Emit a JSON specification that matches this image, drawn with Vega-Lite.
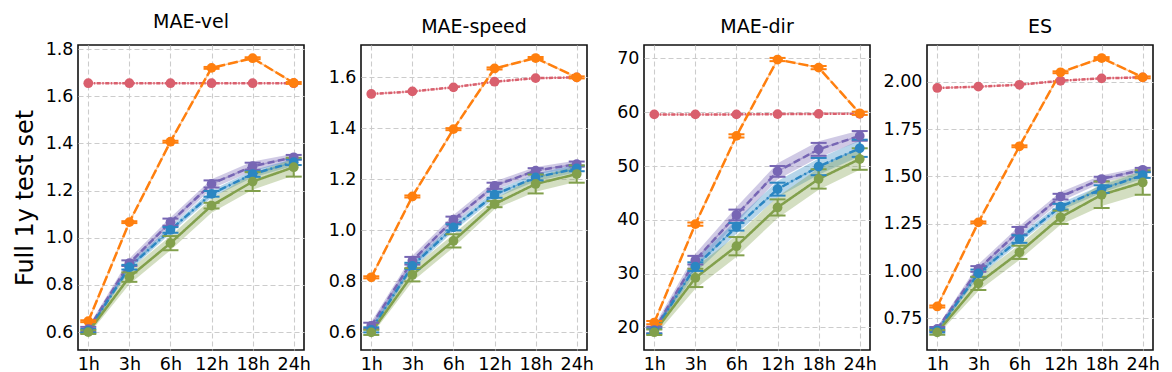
{
"$schema":"https://vega.github.io/schema/vega-lite/v6.json",
"padding":{"left":12,"top":12,"right":5,"bottom":4},
"bounds":"flush",
"spacing":57,
"config":{
 "font":"DejaVu Sans",
 "view":{"stroke":"#111","strokeWidth":1.6},
 "axis":{"labelFont":"DejaVu Sans","labelFontSize":17.5,"labelColor":"#000","grid":true,"gridColor":"#cccccc","gridDash":[5,3],"gridWidth":1.1,"domain":false,"ticks":false,"tickSize":0,"labelPadding":5,"titleFont":"DejaVu Sans","titleFontWeight":"normal","titleColor":"#000"},
 "title":{"font":"DejaVu Sans","fontSize":19,"fontWeight":"normal","color":"#000","offset":8}
},
"data":{"values":[
{"m":"MAE-vel","h":"1h","s":"P","v":1.655},{"m":"MAE-vel","h":"3h","s":"P","v":1.655},{"m":"MAE-vel","h":"6h","s":"P","v":1.655},{"m":"MAE-vel","h":"12h","s":"P","v":1.655},{"m":"MAE-vel","h":"18h","s":"P","v":1.655},{"m":"MAE-vel","h":"24h","s":"P","v":1.655},
{"m":"MAE-vel","h":"1h","s":"B","v":0.646,"elo":0.642,"ehi":0.650},{"m":"MAE-vel","h":"3h","s":"B","v":1.066,"elo":1.062,"ehi":1.070},{"m":"MAE-vel","h":"6h","s":"B","v":1.407,"elo":1.403,"ehi":1.411},{"m":"MAE-vel","h":"12h","s":"B","v":1.72,"elo":1.716,"ehi":1.724},{"m":"MAE-vel","h":"18h","s":"B","v":1.761,"elo":1.757,"ehi":1.765},{"m":"MAE-vel","h":"24h","s":"B","v":1.656,"elo":1.652,"ehi":1.660},
{"m":"MAE-vel","h":"1h","s":"M1","v":0.612,"elo":0.602,"ehi":0.622,"blo":0.600,"bhi":0.624},{"m":"MAE-vel","h":"3h","s":"M1","v":0.892,"elo":0.880,"ehi":0.904,"blo":0.872,"bhi":0.912},{"m":"MAE-vel","h":"6h","s":"M1","v":1.066,"elo":1.051,"ehi":1.081,"blo":1.046,"bhi":1.086},{"m":"MAE-vel","h":"12h","s":"M1","v":1.228,"elo":1.213,"ehi":1.243,"blo":1.208,"bhi":1.248},{"m":"MAE-vel","h":"18h","s":"M1","v":1.303,"elo":1.288,"ehi":1.318,"blo":1.283,"bhi":1.323},{"m":"MAE-vel","h":"24h","s":"M1","v":1.341,"elo":1.331,"ehi":1.351,"blo":1.326,"bhi":1.356},
{"m":"MAE-vel","h":"1h","s":"M2","v":0.605,"elo":0.597,"ehi":0.613,"blo":0.595,"bhi":0.615},{"m":"MAE-vel","h":"3h","s":"M2","v":0.875,"elo":0.865,"ehi":0.885,"blo":0.860,"bhi":0.890},{"m":"MAE-vel","h":"6h","s":"M2","v":1.033,"elo":1.021,"ehi":1.045,"blo":1.018,"bhi":1.048},{"m":"MAE-vel","h":"12h","s":"M2","v":1.186,"elo":1.174,"ehi":1.198,"blo":1.171,"bhi":1.201},{"m":"MAE-vel","h":"18h","s":"M2","v":1.270,"elo":1.258,"ehi":1.282,"blo":1.255,"bhi":1.285},{"m":"MAE-vel","h":"24h","s":"M2","v":1.320,"elo":1.308,"ehi":1.332,"blo":1.305,"bhi":1.335},
{"m":"MAE-vel","h":"1h","s":"M3","v":0.600,"elo":0.592,"ehi":0.608,"blo":0.588,"bhi":0.612},{"m":"MAE-vel","h":"3h","s":"M3","v":0.833,"elo":0.813,"ehi":0.853,"blo":0.803,"bhi":0.863},{"m":"MAE-vel","h":"6h","s":"M3","v":0.977,"elo":0.947,"ehi":1.007,"blo":0.947,"bhi":1.007},{"m":"MAE-vel","h":"12h","s":"M3","v":1.136,"elo":1.124,"ehi":1.148,"blo":1.106,"bhi":1.166},{"m":"MAE-vel","h":"18h","s":"M3","v":1.238,"elo":1.198,"ehi":1.278,"blo":1.203,"bhi":1.273},{"m":"MAE-vel","h":"24h","s":"M3","v":1.299,"elo":1.259,"ehi":1.339,"blo":1.264,"bhi":1.334},

{"m":"MAE-speed","h":"1h","s":"P","v":1.535},{"m":"MAE-speed","h":"3h","s":"P","v":1.545},{"m":"MAE-speed","h":"6h","s":"P","v":1.561},{"m":"MAE-speed","h":"12h","s":"P","v":1.583},{"m":"MAE-speed","h":"18h","s":"P","v":1.597},{"m":"MAE-speed","h":"24h","s":"P","v":1.600},
{"m":"MAE-speed","h":"1h","s":"B","v":0.816,"elo":0.812,"ehi":0.820},{"m":"MAE-speed","h":"3h","s":"B","v":1.133,"elo":1.129,"ehi":1.137},{"m":"MAE-speed","h":"6h","s":"B","v":1.397,"elo":1.393,"ehi":1.401},{"m":"MAE-speed","h":"12h","s":"B","v":1.635,"elo":1.631,"ehi":1.639},{"m":"MAE-speed","h":"18h","s":"B","v":1.676,"elo":1.672,"ehi":1.680},{"m":"MAE-speed","h":"24h","s":"B","v":1.600,"elo":1.596,"ehi":1.604},
{"m":"MAE-speed","h":"1h","s":"M1","v":0.626,"elo":0.614,"ehi":0.638,"blo":0.610,"bhi":0.642},{"m":"MAE-speed","h":"3h","s":"M1","v":0.881,"elo":0.866,"ehi":0.896,"blo":0.861,"bhi":0.901},{"m":"MAE-speed","h":"6h","s":"M1","v":1.042,"elo":1.030,"ehi":1.054,"blo":1.024,"bhi":1.060},{"m":"MAE-speed","h":"12h","s":"M1","v":1.175,"elo":1.163,"ehi":1.187,"blo":1.158,"bhi":1.192},{"m":"MAE-speed","h":"18h","s":"M1","v":1.234,"elo":1.224,"ehi":1.244,"blo":1.219,"bhi":1.249},{"m":"MAE-speed","h":"24h","s":"M1","v":1.260,"elo":1.250,"ehi":1.270,"blo":1.246,"bhi":1.274},
{"m":"MAE-speed","h":"1h","s":"M2","v":0.610,"elo":0.600,"ehi":0.620,"blo":0.598,"bhi":0.622},{"m":"MAE-speed","h":"3h","s":"M2","v":0.861,"elo":0.849,"ehi":0.873,"blo":0.846,"bhi":0.876},{"m":"MAE-speed","h":"6h","s":"M2","v":1.012,"elo":1.000,"ehi":1.024,"blo":0.997,"bhi":1.027},{"m":"MAE-speed","h":"12h","s":"M2","v":1.140,"elo":1.128,"ehi":1.152,"blo":1.125,"bhi":1.155},{"m":"MAE-speed","h":"18h","s":"M2","v":1.208,"elo":1.196,"ehi":1.220,"blo":1.193,"bhi":1.223},{"m":"MAE-speed","h":"24h","s":"M2","v":1.243,"elo":1.232,"ehi":1.254,"blo":1.228,"bhi":1.258},
{"m":"MAE-speed","h":"1h","s":"M3","v":0.600,"elo":0.590,"ehi":0.610,"blo":0.588,"bhi":0.612},{"m":"MAE-speed","h":"3h","s":"M3","v":0.826,"elo":0.800,"ehi":0.852,"blo":0.800,"bhi":0.852},{"m":"MAE-speed","h":"6h","s":"M3","v":0.959,"elo":0.933,"ehi":0.985,"blo":0.933,"bhi":0.985},{"m":"MAE-speed","h":"12h","s":"M3","v":1.103,"elo":1.091,"ehi":1.115,"blo":1.083,"bhi":1.123},{"m":"MAE-speed","h":"18h","s":"M3","v":1.182,"elo":1.145,"ehi":1.219,"blo":1.152,"bhi":1.212},{"m":"MAE-speed","h":"24h","s":"M3","v":1.221,"elo":1.187,"ehi":1.255,"blo":1.191,"bhi":1.251},

{"m":"MAE-dir","h":"1h","s":"P","v":59.6},{"m":"MAE-dir","h":"3h","s":"P","v":59.6},{"m":"MAE-dir","h":"6h","s":"P","v":59.6},{"m":"MAE-dir","h":"12h","s":"P","v":59.65},{"m":"MAE-dir","h":"18h","s":"P","v":59.7},{"m":"MAE-dir","h":"24h","s":"P","v":59.7},
{"m":"MAE-dir","h":"1h","s":"B","v":20.9,"elo":20.6,"ehi":21.2},{"m":"MAE-dir","h":"3h","s":"B","v":39.2,"elo":38.9,"ehi":39.5},{"m":"MAE-dir","h":"6h","s":"B","v":55.6,"elo":55.3,"ehi":55.9},{"m":"MAE-dir","h":"12h","s":"B","v":69.8,"elo":69.5,"ehi":70.1},{"m":"MAE-dir","h":"18h","s":"B","v":68.3,"elo":68.0,"ehi":68.6},{"m":"MAE-dir","h":"24h","s":"B","v":59.8,"elo":59.5,"ehi":60.1},
{"m":"MAE-dir","h":"1h","s":"M1","v":19.5,"elo":18.9,"ehi":20.1,"blo":18.7,"bhi":20.3},{"m":"MAE-dir","h":"3h","s":"M1","v":32.5,"elo":31.7,"ehi":33.3,"blo":31.3,"bhi":33.7},{"m":"MAE-dir","h":"6h","s":"M1","v":40.9,"elo":39.9,"ehi":41.9,"blo":39.4,"bhi":42.4},{"m":"MAE-dir","h":"12h","s":"M1","v":49.0,"elo":48.0,"ehi":50.0,"blo":47.5,"bhi":50.5},{"m":"MAE-dir","h":"18h","s":"M1","v":53.1,"elo":51.9,"ehi":54.3,"blo":51.6,"bhi":54.6},{"m":"MAE-dir","h":"24h","s":"M1","v":55.6,"elo":54.7,"ehi":56.5,"blo":54.6,"bhi":56.6},
{"m":"MAE-dir","h":"1h","s":"M2","v":19.3,"elo":18.8,"ehi":19.8,"blo":18.6,"bhi":20.0},{"m":"MAE-dir","h":"3h","s":"M2","v":31.3,"elo":30.5,"ehi":32.1,"blo":30.1,"bhi":32.5},{"m":"MAE-dir","h":"6h","s":"M2","v":38.7,"elo":38.0,"ehi":39.4,"blo":37.4,"bhi":40.0},{"m":"MAE-dir","h":"12h","s":"M2","v":45.7,"elo":44.5,"ehi":46.9,"blo":44.2,"bhi":47.2},{"m":"MAE-dir","h":"18h","s":"M2","v":49.9,"elo":48.3,"ehi":51.5,"blo":48.4,"bhi":51.4},{"m":"MAE-dir","h":"24h","s":"M2","v":53.3,"elo":51.7,"ehi":54.9,"blo":51.8,"bhi":54.8},
{"m":"MAE-dir","h":"1h","s":"M3","v":19.1,"elo":18.6,"ehi":19.6,"blo":18.3,"bhi":19.9},{"m":"MAE-dir","h":"3h","s":"M3","v":29.2,"elo":27.5,"ehi":30.9,"blo":27.2,"bhi":31.2},{"m":"MAE-dir","h":"6h","s":"M3","v":35.1,"elo":33.4,"ehi":36.8,"blo":33.1,"bhi":37.1},{"m":"MAE-dir","h":"12h","s":"M3","v":42.3,"elo":40.8,"ehi":43.8,"blo":40.3,"bhi":44.3},{"m":"MAE-dir","h":"18h","s":"M3","v":47.6,"elo":45.8,"ehi":49.4,"blo":45.6,"bhi":49.6},{"m":"MAE-dir","h":"24h","s":"M3","v":51.3,"elo":49.3,"ehi":53.3,"blo":49.3,"bhi":53.3},

{"m":"ES","h":"1h","s":"P","v":1.967},{"m":"ES","h":"3h","s":"P","v":1.974},{"m":"ES","h":"6h","s":"P","v":1.984},{"m":"ES","h":"12h","s":"P","v":2.005},{"m":"ES","h":"18h","s":"P","v":2.018},{"m":"ES","h":"24h","s":"P","v":2.023},
{"m":"ES","h":"1h","s":"B","v":0.813,"elo":0.808,"ehi":0.818},{"m":"ES","h":"3h","s":"B","v":1.257,"elo":1.252,"ehi":1.262},{"m":"ES","h":"6h","s":"B","v":1.659,"elo":1.654,"ehi":1.664},{"m":"ES","h":"12h","s":"B","v":2.05,"elo":2.045,"ehi":2.055},{"m":"ES","h":"18h","s":"B","v":2.125,"elo":2.120,"ehi":2.130},{"m":"ES","h":"24h","s":"B","v":2.023,"elo":2.018,"ehi":2.028},
{"m":"ES","h":"1h","s":"M1","v":0.694,"elo":0.684,"ehi":0.704,"blo":0.682,"bhi":0.706},{"m":"ES","h":"3h","s":"M1","v":1.011,"elo":0.996,"ehi":1.026,"blo":0.986,"bhi":1.036},{"m":"ES","h":"6h","s":"M1","v":1.213,"elo":1.193,"ehi":1.233,"blo":1.188,"bhi":1.238},{"m":"ES","h":"12h","s":"M1","v":1.393,"elo":1.378,"ehi":1.408,"blo":1.368,"bhi":1.418},{"m":"ES","h":"18h","s":"M1","v":1.486,"elo":1.474,"ehi":1.498,"blo":1.466,"bhi":1.506},{"m":"ES","h":"24h","s":"M1","v":1.535,"elo":1.525,"ehi":1.545,"blo":1.520,"bhi":1.550},
{"m":"ES","h":"1h","s":"M2","v":0.685,"elo":0.675,"ehi":0.695,"blo":0.673,"bhi":0.697},{"m":"ES","h":"3h","s":"M2","v":0.988,"elo":0.968,"ehi":1.008,"blo":0.968,"bhi":1.008},{"m":"ES","h":"6h","s":"M2","v":1.169,"elo":1.149,"ehi":1.189,"blo":1.149,"bhi":1.189},{"m":"ES","h":"12h","s":"M2","v":1.340,"elo":1.325,"ehi":1.355,"blo":1.320,"bhi":1.360},{"m":"ES","h":"18h","s":"M2","v":1.433,"elo":1.413,"ehi":1.453,"blo":1.413,"bhi":1.453},{"m":"ES","h":"24h","s":"M2","v":1.507,"elo":1.492,"ehi":1.522,"blo":1.487,"bhi":1.527},
{"m":"ES","h":"1h","s":"M3","v":0.676,"elo":0.664,"ehi":0.688,"blo":0.661,"bhi":0.691},{"m":"ES","h":"3h","s":"M3","v":0.935,"elo":0.900,"ehi":0.970,"blo":0.895,"bhi":0.975},{"m":"ES","h":"6h","s":"M3","v":1.099,"elo":1.064,"ehi":1.134,"blo":1.059,"bhi":1.139},{"m":"ES","h":"12h","s":"M3","v":1.284,"elo":1.249,"ehi":1.319,"blo":1.244,"bhi":1.324},{"m":"ES","h":"18h","s":"M3","v":1.403,"elo":1.333,"ehi":1.473,"blo":1.343,"bhi":1.463},{"m":"ES","h":"24h","s":"M3","v":1.468,"elo":1.403,"ehi":1.533,"blo":1.408,"bhi":1.528}
]},
"hconcat":[
{"width":226,"height":305,"title":"MAE-vel","transform":[{"filter":"datum.m==='MAE-vel'"}],
 "encoding":{"x":{"field":"h","type":"ordinal","sort":["1h","3h","6h","12h","18h","24h"],"scale":{"type":"point","padding":0.25},"axis":{"title":null,"labelAngle":0,"grid":true}},
  "color":{"field":"s","type":"nominal","scale":{"domain":["P","B","M1","M2","M3"],"range":["#d95f6d","#ff7f0e","#7766b4","#2b86c2","#82a04c"]},"legend":null}},
 "layer":[
  {"transform":[{"filter":"isValid(datum.blo)"}],"mark":{"type":"area","opacity":0.35},"encoding":{"y":{"field":"blo","type":"quantitative","scale":{"domain":[0.524,1.817],"zero":false,"nice":false},"axis":{"values":[0.6,0.8,1.0,1.2,1.4,1.6,1.8],"format":".1f","title":"Full 1y test set","titleFontSize":24,"titlePadding":8,"minExtent":33,"maxExtent":33}},"y2":{"field":"bhi"}}},
  {"mark":{"type":"line","strokeWidth":1.5,"opacity":0.45},"encoding":{"y":{"field":"v","type":"quantitative","scale":{"domain":[0.524,1.817],"zero":false,"nice":false},"axis":{"values":[0.6,0.8,1.0,1.2,1.4,1.6,1.8],"format":".1f","title":"Full 1y test set","titleFontSize":24,"titlePadding":8,"minExtent":33,"maxExtent":33}}}},
  {"mark":{"type":"line","strokeWidth":2.5},"encoding":{"y":{"field":"v","type":"quantitative","scale":{"domain":[0.524,1.817],"zero":false,"nice":false},"axis":{"values":[0.6,0.8,1.0,1.2,1.4,1.6,1.8],"format":".1f","title":"Full 1y test set","titleFontSize":24,"titlePadding":8,"minExtent":33,"maxExtent":33}},"strokeDash":{"field":"s","type":"nominal","scale":{"domain":["P","B","M1","M2","M3"],"range":[[4,1.5,1.5,1.5],[10,3],[7,3.5],[7,3,2,3],[1,0]]},"legend":null}}},
  {"transform":[{"filter":"isValid(datum.elo)"}],"mark":{"type":"rule","strokeWidth":2},"encoding":{"y":{"field":"elo","type":"quantitative","scale":{"domain":[0.524,1.817],"zero":false,"nice":false},"axis":{"values":[0.6,0.8,1.0,1.2,1.4,1.6,1.8],"format":".1f","title":"Full 1y test set","titleFontSize":24,"titlePadding":8,"minExtent":33,"maxExtent":33}},"y2":{"field":"ehi"}}},
  {"transform":[{"filter":"isValid(datum.elo)"}],"mark":{"type":"tick","thickness":2,"size":16,"opacity":1},"encoding":{"y":{"field":"elo","type":"quantitative","scale":{"domain":[0.524,1.817],"zero":false,"nice":false},"axis":{"values":[0.6,0.8,1.0,1.2,1.4,1.6,1.8],"format":".1f","title":"Full 1y test set","titleFontSize":24,"titlePadding":8,"minExtent":33,"maxExtent":33}}}},
  {"transform":[{"filter":"isValid(datum.ehi)"}],"mark":{"type":"tick","thickness":2,"size":16,"opacity":1},"encoding":{"y":{"field":"ehi","type":"quantitative","scale":{"domain":[0.524,1.817],"zero":false,"nice":false},"axis":{"values":[0.6,0.8,1.0,1.2,1.4,1.6,1.8],"format":".1f","title":"Full 1y test set","titleFontSize":24,"titlePadding":8,"minExtent":33,"maxExtent":33}}}},
  {"mark":{"type":"circle","size":95,"opacity":1},"encoding":{"y":{"field":"v","type":"quantitative","scale":{"domain":[0.524,1.817],"zero":false,"nice":false},"axis":{"values":[0.6,0.8,1.0,1.2,1.4,1.6,1.8],"format":".1f","title":"Full 1y test set","titleFontSize":24,"titlePadding":8,"minExtent":33,"maxExtent":33}}}}
 ]},
{"width":226,"height":305,"title":"MAE-speed","transform":[{"filter":"datum.m==='MAE-speed'"}],
 "encoding":{"x":{"field":"h","type":"ordinal","sort":["1h","3h","6h","12h","18h","24h"],"scale":{"type":"point","padding":0.25},"axis":{"title":null,"labelAngle":0,"grid":true}},
  "color":{"field":"s","type":"nominal","scale":{"domain":["P","B","M1","M2","M3"],"range":["#d95f6d","#ff7f0e","#7766b4","#2b86c2","#82a04c"]},"legend":null}},
 "layer":[
  {"transform":[{"filter":"isValid(datum.blo)"}],"mark":{"type":"area","opacity":0.35},"encoding":{"y":{"field":"blo","type":"quantitative","scale":{"domain":[0.531,1.727],"zero":false,"nice":false},"axis":{"values":[0.6,0.8,1.0,1.2,1.4,1.6],"format":".1f","title":null}},"y2":{"field":"bhi"}}},
  {"mark":{"type":"line","strokeWidth":1.5,"opacity":0.45},"encoding":{"y":{"field":"v","type":"quantitative","scale":{"domain":[0.531,1.727],"zero":false,"nice":false},"axis":{"values":[0.6,0.8,1.0,1.2,1.4,1.6],"format":".1f","title":null}}}},
  {"mark":{"type":"line","strokeWidth":2.5},"encoding":{"y":{"field":"v","type":"quantitative","scale":{"domain":[0.531,1.727],"zero":false,"nice":false},"axis":{"values":[0.6,0.8,1.0,1.2,1.4,1.6],"format":".1f","title":null}},"strokeDash":{"field":"s","type":"nominal","scale":{"domain":["P","B","M1","M2","M3"],"range":[[4,1.5,1.5,1.5],[10,3],[7,3.5],[7,3,2,3],[1,0]]},"legend":null}}},
  {"transform":[{"filter":"isValid(datum.elo)"}],"mark":{"type":"rule","strokeWidth":2},"encoding":{"y":{"field":"elo","type":"quantitative","scale":{"domain":[0.531,1.727],"zero":false,"nice":false},"axis":{"values":[0.6,0.8,1.0,1.2,1.4,1.6],"format":".1f","title":null}},"y2":{"field":"ehi"}}},
  {"transform":[{"filter":"isValid(datum.elo)"}],"mark":{"type":"tick","thickness":2,"size":16,"opacity":1},"encoding":{"y":{"field":"elo","type":"quantitative","scale":{"domain":[0.531,1.727],"zero":false,"nice":false},"axis":{"values":[0.6,0.8,1.0,1.2,1.4,1.6],"format":".1f","title":null}}}},
  {"transform":[{"filter":"isValid(datum.ehi)"}],"mark":{"type":"tick","thickness":2,"size":16,"opacity":1},"encoding":{"y":{"field":"ehi","type":"quantitative","scale":{"domain":[0.531,1.727],"zero":false,"nice":false},"axis":{"values":[0.6,0.8,1.0,1.2,1.4,1.6],"format":".1f","title":null}}}},
  {"mark":{"type":"circle","size":95,"opacity":1},"encoding":{"y":{"field":"v","type":"quantitative","scale":{"domain":[0.531,1.727],"zero":false,"nice":false},"axis":{"values":[0.6,0.8,1.0,1.2,1.4,1.6],"format":".1f","title":null}}}}
 ]},
{"width":226,"height":305,"title":"MAE-dir","transform":[{"filter":"datum.m==='MAE-dir'"}],
 "encoding":{"x":{"field":"h","type":"ordinal","sort":["1h","3h","6h","12h","18h","24h"],"scale":{"type":"point","padding":0.25},"axis":{"title":null,"labelAngle":0,"grid":true}},
  "color":{"field":"s","type":"nominal","scale":{"domain":["P","B","M1","M2","M3"],"range":["#d95f6d","#ff7f0e","#7766b4","#2b86c2","#82a04c"]},"legend":null}},
 "layer":[
  {"transform":[{"filter":"isValid(datum.blo)"}],"mark":{"type":"area","opacity":0.35},"encoding":{"y":{"field":"blo","type":"quantitative","scale":{"domain":[15.8,72.5],"zero":false,"nice":false},"axis":{"values":[20,30,40,50,60,70],"format":"d","title":null}},"y2":{"field":"bhi"}}},
  {"mark":{"type":"line","strokeWidth":1.5,"opacity":0.45},"encoding":{"y":{"field":"v","type":"quantitative","scale":{"domain":[15.8,72.5],"zero":false,"nice":false},"axis":{"values":[20,30,40,50,60,70],"format":"d","title":null}}}},
  {"mark":{"type":"line","strokeWidth":2.5},"encoding":{"y":{"field":"v","type":"quantitative","scale":{"domain":[15.8,72.5],"zero":false,"nice":false},"axis":{"values":[20,30,40,50,60,70],"format":"d","title":null}},"strokeDash":{"field":"s","type":"nominal","scale":{"domain":["P","B","M1","M2","M3"],"range":[[4,1.5,1.5,1.5],[10,3],[7,3.5],[7,3,2,3],[1,0]]},"legend":null}}},
  {"transform":[{"filter":"isValid(datum.elo)"}],"mark":{"type":"rule","strokeWidth":2},"encoding":{"y":{"field":"elo","type":"quantitative","scale":{"domain":[15.8,72.5],"zero":false,"nice":false},"axis":{"values":[20,30,40,50,60,70],"format":"d","title":null}},"y2":{"field":"ehi"}}},
  {"transform":[{"filter":"isValid(datum.elo)"}],"mark":{"type":"tick","thickness":2,"size":16,"opacity":1},"encoding":{"y":{"field":"elo","type":"quantitative","scale":{"domain":[15.8,72.5],"zero":false,"nice":false},"axis":{"values":[20,30,40,50,60,70],"format":"d","title":null}}}},
  {"transform":[{"filter":"isValid(datum.ehi)"}],"mark":{"type":"tick","thickness":2,"size":16,"opacity":1},"encoding":{"y":{"field":"ehi","type":"quantitative","scale":{"domain":[15.8,72.5],"zero":false,"nice":false},"axis":{"values":[20,30,40,50,60,70],"format":"d","title":null}}}},
  {"mark":{"type":"circle","size":95,"opacity":1},"encoding":{"y":{"field":"v","type":"quantitative","scale":{"domain":[15.8,72.5],"zero":false,"nice":false},"axis":{"values":[20,30,40,50,60,70],"format":"d","title":null}}}}
 ]},
{"width":226,"height":305,"title":"ES","transform":[{"filter":"datum.m==='ES'"}],
 "encoding":{"x":{"field":"h","type":"ordinal","sort":["1h","3h","6h","12h","18h","24h"],"scale":{"type":"point","padding":0.25},"axis":{"title":null,"labelAngle":0,"grid":true}},
  "color":{"field":"s","type":"nominal","scale":{"domain":["P","B","M1","M2","M3"],"range":["#d95f6d","#ff7f0e","#7766b4","#2b86c2","#82a04c"]},"legend":null}},
 "layer":[
  {"transform":[{"filter":"isValid(datum.blo)"}],"mark":{"type":"area","opacity":0.35},"encoding":{"y":{"field":"blo","type":"quantitative","scale":{"domain":[0.583,2.194],"zero":false,"nice":false},"axis":{"values":[0.75,1.0,1.25,1.5,1.75,2.0],"format":".2f","title":null}},"y2":{"field":"bhi"}}},
  {"mark":{"type":"line","strokeWidth":1.5,"opacity":0.45},"encoding":{"y":{"field":"v","type":"quantitative","scale":{"domain":[0.583,2.194],"zero":false,"nice":false},"axis":{"values":[0.75,1.0,1.25,1.5,1.75,2.0],"format":".2f","title":null}}}},
  {"mark":{"type":"line","strokeWidth":2.5},"encoding":{"y":{"field":"v","type":"quantitative","scale":{"domain":[0.583,2.194],"zero":false,"nice":false},"axis":{"values":[0.75,1.0,1.25,1.5,1.75,2.0],"format":".2f","title":null}},"strokeDash":{"field":"s","type":"nominal","scale":{"domain":["P","B","M1","M2","M3"],"range":[[4,1.5,1.5,1.5],[10,3],[7,3.5],[7,3,2,3],[1,0]]},"legend":null}}},
  {"transform":[{"filter":"isValid(datum.elo)"}],"mark":{"type":"rule","strokeWidth":2},"encoding":{"y":{"field":"elo","type":"quantitative","scale":{"domain":[0.583,2.194],"zero":false,"nice":false},"axis":{"values":[0.75,1.0,1.25,1.5,1.75,2.0],"format":".2f","title":null}},"y2":{"field":"ehi"}}},
  {"transform":[{"filter":"isValid(datum.elo)"}],"mark":{"type":"tick","thickness":2,"size":16,"opacity":1},"encoding":{"y":{"field":"elo","type":"quantitative","scale":{"domain":[0.583,2.194],"zero":false,"nice":false},"axis":{"values":[0.75,1.0,1.25,1.5,1.75,2.0],"format":".2f","title":null}}}},
  {"transform":[{"filter":"isValid(datum.ehi)"}],"mark":{"type":"tick","thickness":2,"size":16,"opacity":1},"encoding":{"y":{"field":"ehi","type":"quantitative","scale":{"domain":[0.583,2.194],"zero":false,"nice":false},"axis":{"values":[0.75,1.0,1.25,1.5,1.75,2.0],"format":".2f","title":null}}}},
  {"mark":{"type":"circle","size":95,"opacity":1},"encoding":{"y":{"field":"v","type":"quantitative","scale":{"domain":[0.583,2.194],"zero":false,"nice":false},"axis":{"values":[0.75,1.0,1.25,1.5,1.75,2.0],"format":".2f","title":null}}}}
 ]}
]
}
